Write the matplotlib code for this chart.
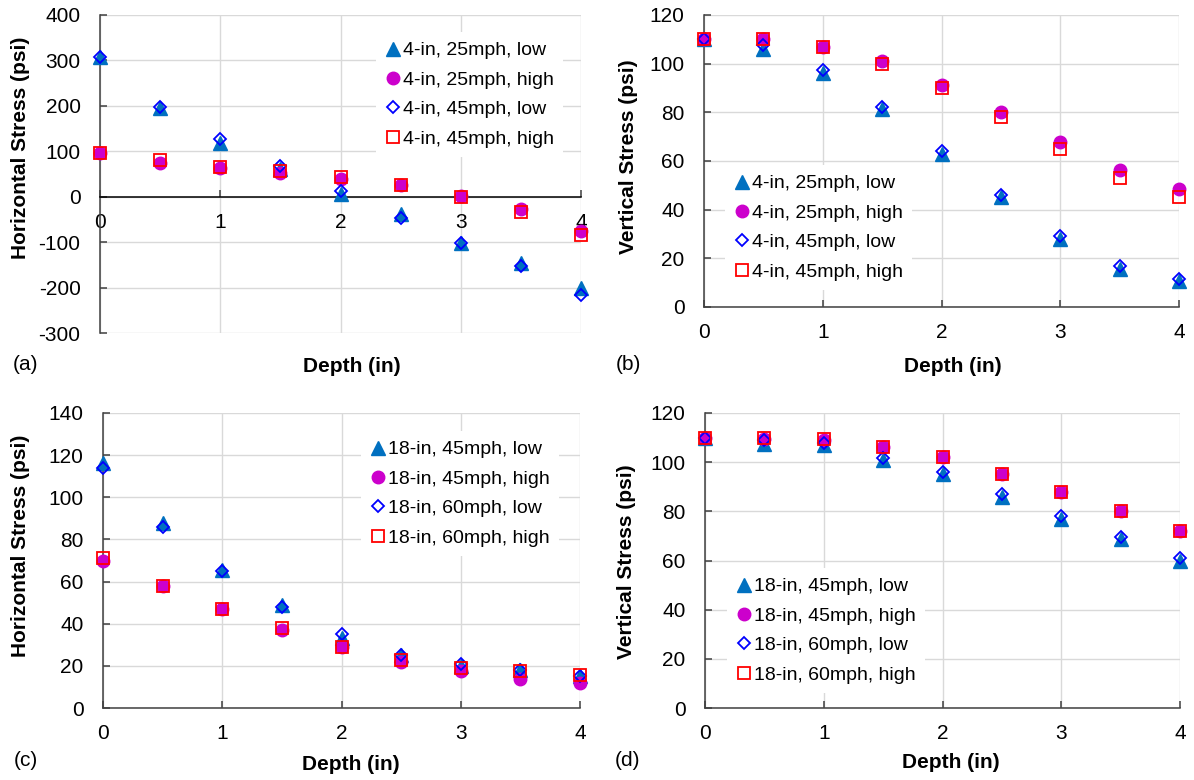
import matplotlib.pyplot as plt

plt.rcParams['font.family'] = ['Liberation Sans', 'DejaVu Sans']
plt.rcParams['font.size'] = 14
plt.rcParams['axes.unicode_minus'] = False

W, H = 1194, 780

# depth below surface (in)
depth = [0, 0.5, 1, 1.5, 2, 2.5, 3, 3.5, 4]

# (a) horizontal stress, 4-in layer
labels_4in = ['4-in, 25mph, low', '4-in, 25mph, high', '4-in, 45mph, low', '4-in, 45mph, high']
hz_4in_25_low = [307, 196, 118, 62, 5, -37, -102, -146, -201]
hz_4in_25_high = [96, 75, 64, 52, 40, 26, 1, -28, -76]
hz_4in_45_low = [308, 197, 128, 67, 12, -46, -101, -152, -217]
hz_4in_45_high = [97, 80, 66, 56, 43, 26, 0, -34, -85]

# (b) vertical stress, 4-in layer
vt_4in_25_low = [110, 106, 96.3, 81.3, 63, 45, 28, 15.8, 10.6]
vt_4in_25_high = [110, 110, 106.7, 100.9, 91.2, 80.2, 67.9, 56.5, 48.3]
vt_4in_45_low = [110, 107.6, 97.4, 82.3, 64.2, 46, 29, 16.7, 11.7]
vt_4in_45_high = [110, 110, 106.7, 99.9, 89.8, 77.9, 64.9, 53, 45.3]

# (c) horizontal stress, 18-in layer
labels_18in = ['18-in, 45mph, low', '18-in, 45mph, high', '18-in, 60mph, low', '18-in, 60mph, high']
hz_18in_45_low = [116.5, 88, 65.5, 49, 33, 25, 20, 18, 15]
hz_18in_45_high = [70, 58, 47, 37, 29, 21.6, 17.7, 14, 11.8]
hz_18in_60_low = [114, 86, 65, 48, 35, 25, 21, 18, 15.3]
hz_18in_60_high = [71, 58, 47, 38, 29, 23, 19, 17.7, 15.5]

# (d) vertical stress, 18-in layer
vt_18in_45_low = [110, 107.5, 107, 101, 95, 86, 77, 68.6, 60]
vt_18in_45_high = [110, 109.5, 109, 106, 102, 95, 88, 80, 72]
vt_18in_60_low = [110, 109, 108, 101.5, 96, 87, 78, 69.7, 61]
vt_18in_60_high = [110, 110, 109.6, 106, 102, 95, 88, 80, 72]

STYLES = [
    dict(marker='^', ms=10.5, color='#0070C0', mec='#0070C0'),
    dict(marker='o', ms=9, color='#CC00CC', mec='#CC00CC'),
    dict(marker='D', ms=6.6, color='#0000FF', mfc='none', mec='#0000FF', mew=1.3),
    dict(marker='s', ms=8.8, color='#FF0000', mfc='none', mec='#FF0000', mew=1.3),
]

GRID = '#D9D9D9'
AXIS = '#404040'

fig = plt.figure(figsize=(W / 100, H / 100), dpi=100)


def px_axes(left, top, right, bottom):
    return fig.add_axes([left / W, 1 - bottom / H, (right - left) / W, (bottom - top) / H])


def draw_panel(box, series, labels, ylim, ystep, leg_xy, ylabel, ylab_xy, xlab_xy, tag, tag_xy, zero_axis=False):
    ax = px_axes(*box)
    for vals, lab, st in zip(series, labels, STYLES):
        ax.plot(depth, vals, linestyle='none', label=lab, clip_on=False, zorder=3, **st)

    ax.set_xlim(0, 4)
    ax.set_ylim(*ylim)
    ax.set_xticks(range(0, 5))
    ax.set_yticks(range(ylim[0], ylim[1] + 1, ystep))
    ax.grid(True, color=GRID, linewidth=1.0, zorder=0)
    ax.set_axisbelow(True)

    for side in ('top', 'right'):
        ax.spines[side].set_visible(False)
    for side in ('left', 'bottom'):
        ax.spines[side].set_color(AXIS)
        ax.spines[side].set_linewidth(1.1)
    if zero_axis:
        ax.spines['bottom'].set_position(('data', 0))
        ax.spines['bottom'].set_color('black')

    ax.tick_params(axis='both', direction='in', length=5, width=1.1, color=AXIS, labelsize=15)
    ax.tick_params(axis='x', pad=11.5)
    ax.tick_params(axis='y', pad=14)

    ax.legend(loc='upper left', bbox_to_anchor=(leg_xy[0] / W, 1 - leg_xy[1] / H),
              bbox_transform=fig.transFigure, frameon=True, facecolor='white',
              edgecolor='none', framealpha=1, fancybox=False, borderpad=0.5,
              handlelength=0.7, handletextpad=0.17, labelspacing=0.61,
              borderaxespad=0, numpoints=1, fontsize=14)

    fig.text(ylab_xy[0] / W, 1 - ylab_xy[1] / H, ylabel, rotation=90, ha='center',
             va='center', fontsize=15, fontweight='bold')
    fig.text(xlab_xy[0] / W, 1 - xlab_xy[1] / H, 'Depth (in)', ha='center', va='center',
             fontsize=15, fontweight='bold')
    fig.text(tag_xy[0] / W, 1 - tag_xy[1] / H, tag, ha='center', va='center', fontsize=15)
    return ax


draw_panel((100, 15, 581, 333),
           [hz_4in_25_low, hz_4in_25_high, hz_4in_45_low, hz_4in_45_high], labels_4in,
           (-300, 400), 100, (376, 32), 'Horizontal Stress (psi)', (21, 148),
           (352, 366), '(a)', (26, 364), zero_axis=True)

draw_panel((704, 15, 1179, 307),
           [vt_4in_25_low, vt_4in_25_high, vt_4in_45_low, vt_4in_45_high], labels_4in,
           (0, 120), 20, (725, 165), 'Vertical Stress (psi)', (628, 157),
           (953, 366), '(b)', (628, 364))

draw_panel((103, 413, 580, 708),
           [hz_18in_45_low, hz_18in_45_high, hz_18in_60_low, hz_18in_60_high], labels_18in,
           (0, 140), 20, (361, 431), 'Horizontal Stress (psi)', (21, 546),
           (351, 764), '(c)', (26, 760))

draw_panel((705, 413, 1180, 708),
           [vt_18in_45_low, vt_18in_45_high, vt_18in_60_low, vt_18in_60_high], labels_18in,
           (0, 120), 20, (727, 568), 'Vertical Stress (psi)', (627, 562),
           (951, 763), '(d)', (628, 760))

fig.savefig('out.png', dpi=100)
